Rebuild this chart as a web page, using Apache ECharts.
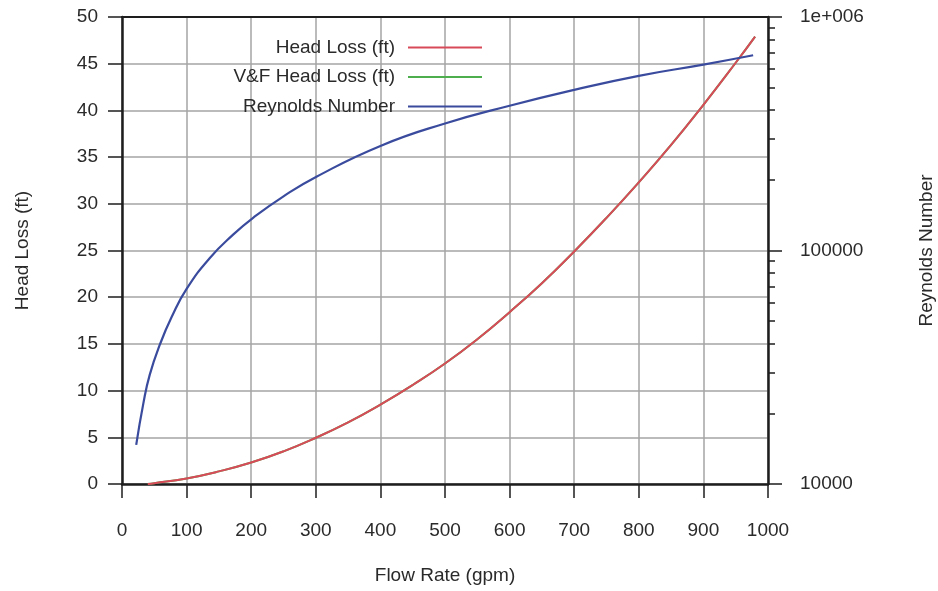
<!DOCTYPE html>
<html>
<head>
<meta charset="utf-8">
<script src="https://cdn.jsdelivr.net/npm/echarts@6/dist/echarts.min.js"></script>
<style>
html,body{margin:0;padding:0;background:#fff;}
#chart{width:938px;height:591px;}
</style>
</head>
<body>
<div id="chart"></div>
<script>
// Flow rate (gpm) sample points and values
var headLossFlow = [40, 50, 100, 150, 200, 250, 300, 350, 400, 450, 500, 550, 600, 650, 700, 750, 800, 850, 900, 950, 980];
var headLoss     = [0.0, 0.08, 0.6, 1.35, 2.3, 3.5, 4.95, 6.6, 8.5, 10.6, 12.9, 15.5, 18.4, 21.5, 24.9, 28.5, 32.3, 36.3, 40.6, 45.1, 47.9];
var vfHeadLoss   = [0.0, 0.08, 0.6, 1.35, 2.3, 3.5, 4.95, 6.6, 8.5, 10.6, 12.9, 15.5, 18.4, 21.5, 24.9, 28.5, 32.3, 36.3, 40.6, 45.1, 47.9];
var reynoldsFlow = [22, 33, 43, 59, 77, 100, 136, 172, 203, 250, 301, 400, 500, 600, 700, 800, 900, 977];
var reynolds     = [14700, 22100, 29400, 39800, 52000, 68500, 92900, 116900, 138000, 170600, 207000, 280500, 349900, 416900, 487500, 559800, 625200, 685500];
var rightMinor = [20000, 30000, 40000, 50000, 60000, 70000, 80000, 90000, 200000, 300000, 400000, 500000, 600000, 700000, 800000, 900000];
var seriesNames = ['Head Loss (ft)', 'V&F Head Loss (ft)', 'Reynolds Number'];

function pairs(xs, ys) { return xs.map(function (x, i) { return [x, ys[i]]; }); }

var FONT = 'Liberation Sans, Arial, sans-serif';
var TXT = '#2a2a2a';
var AX = '#1e1e1e';
var GRID = '#a5a5a5';

var chart = echarts.init(document.getElementById('chart'));
chart.setOption({
  animation: false,
  backgroundColor: '#fff',
  textStyle: { fontFamily: FONT },
  grid: { left: 122, right: 170, top: 17, bottom: 107, containLabel: false, outerBoundsMode: 'none' },
  legend: {
    data: seriesNames,
    orient: 'vertical',
    align: 'right',
    right: 456,
    top: 38,
    padding: 0,
    icon: 'rect',
    itemWidth: 74,
    itemHeight: 2,
    itemGap: 10.5,
    textStyle: { fontFamily: FONT, fontSize: 19, color: TXT, padding: [0, 8, 0, 0] }
  },
  xAxis: [{
    type: 'value', min: 0, max: 1000, interval: 100, position: 'bottom',
    name: 'Flow Rate (gpm)', nameLocation: 'middle', nameGap: 82,
    nameTextStyle: { fontFamily: FONT, fontSize: 19, color: TXT },
    axisLine: { show: true, onZero: false, lineStyle: { color: AX, width: 2.5 } },
    axisTick: { show: true, length: 14, lineStyle: { color: AX, width: 1.5 } },
    axisLabel: { margin: 37, fontSize: 19, color: TXT, fontFamily: FONT,
      formatter: function (v) { return String(v); } },
    splitLine: { show: true, lineStyle: { color: GRID, width: 1.5 } }
  }, {
    type: 'value', min: 0, max: 1000, position: 'top',
    axisLine: { show: true, onZero: false, lineStyle: { color: AX, width: 2 } },
    axisTick: { show: false }, axisLabel: { show: false }, splitLine: { show: false }
  }],
  yAxis: [{
    type: 'value', min: 0, max: 50, interval: 5, position: 'left',
    name: 'Head Loss (ft)', nameLocation: 'middle', nameGap: 90, nameRotate: 90,
    nameTextStyle: { fontFamily: FONT, fontSize: 19, color: TXT },
    axisLine: { show: true, onZero: false, lineStyle: { color: AX, width: 2.5 } },
    axisTick: { show: true, length: 14, lineStyle: { color: AX, width: 1.5 } },
    axisLabel: { margin: 24, fontSize: 19, color: TXT, fontFamily: FONT },
    splitLine: { show: true, lineStyle: { color: GRID, width: 1.5 } }
  }, {
    type: 'log', logBase: 10, min: 10000, max: 1000000, position: 'right',
    name: 'Reynolds Number', nameLocation: 'middle', nameGap: 149, nameRotate: 90,
    nameTextStyle: { fontFamily: FONT, fontSize: 19, color: TXT },
    axisLine: { show: true, onZero: false, lineStyle: { color: AX, width: 2.5 } },
    axisTick: { show: true, length: 14, lineStyle: { color: AX, width: 1.5 } },
    axisLabel: { margin: 32, fontSize: 19, color: TXT, fontFamily: FONT,
      formatter: function (v) { return v >= 999999 ? '1e+006' : String(Math.round(v)); } },
    splitLine: { show: false }
  }, {
    type: 'log', logBase: 10, min: 10000, max: 1000000, position: 'right',
    axisLine: { show: false, onZero: false },
    axisTick: { show: true, length: 7, lineStyle: { color: AX, width: 1.5 }, customValues: rightMinor },
    axisLabel: { show: false },
    splitLine: { show: false }
  }],
  series: [{
    name: seriesNames[1], type: 'line', xAxisIndex: 0, yAxisIndex: 0,
    data: pairs(headLossFlow, vfHeadLoss), symbol: 'none', smooth: true,
    lineStyle: { color: '#4cae4c', width: 2 }, itemStyle: { color: '#4cae4c' }
  }, {
    name: seriesNames[0], type: 'line', xAxisIndex: 0, yAxisIndex: 0,
    data: pairs(headLossFlow, headLoss), symbol: 'none', smooth: true,
    lineStyle: { color: '#d84a58', width: 2 }, itemStyle: { color: '#d84a58' }
  }, {
    name: seriesNames[2], type: 'line', xAxisIndex: 0, yAxisIndex: 1,
    data: pairs(reynoldsFlow, reynolds), symbol: 'none', smooth: true,
    lineStyle: { color: '#3a4b9e', width: 2.2 }, itemStyle: { color: '#3a4b9e' }
  }]
});
</script>
</body>
</html>
